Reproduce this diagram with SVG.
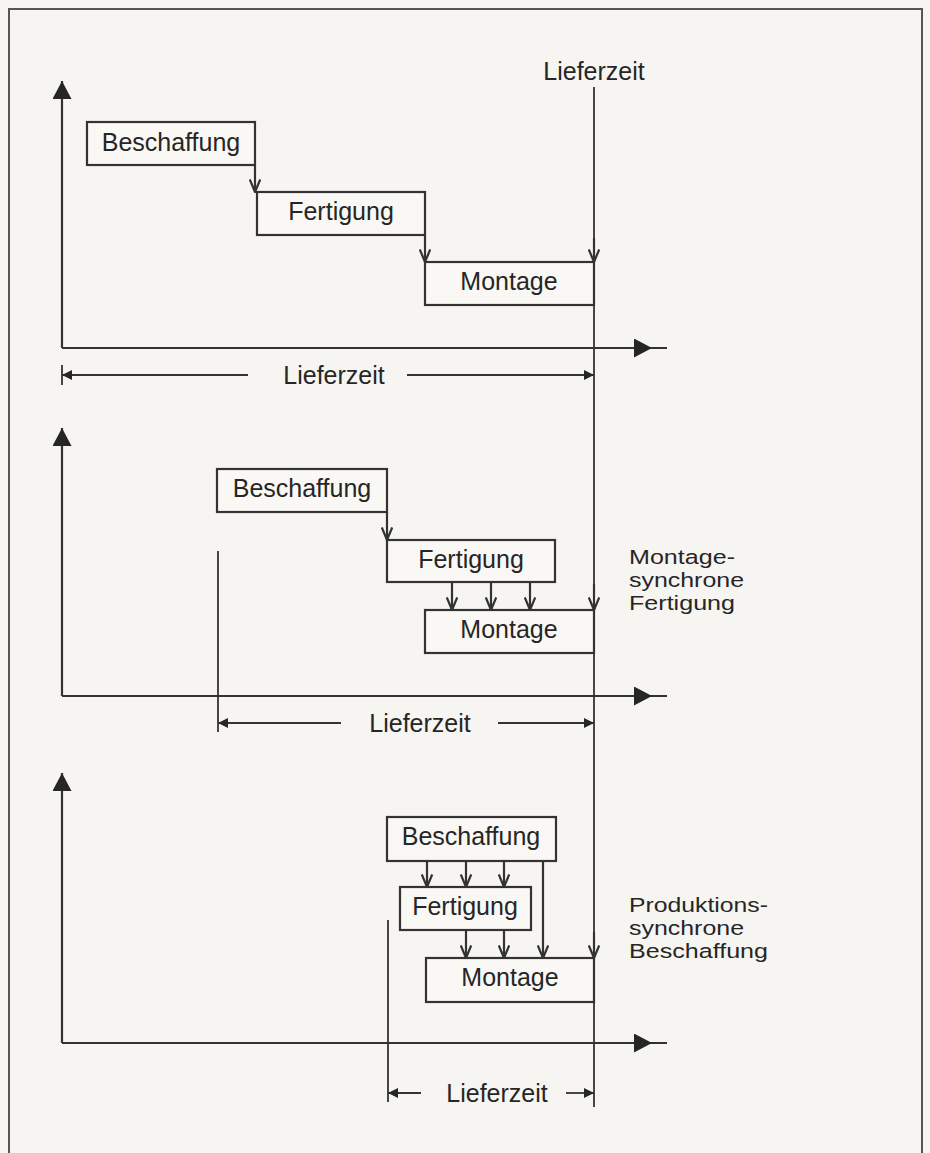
<svg xmlns="http://www.w3.org/2000/svg" width="930" height="1153" viewBox="0 0 930 1153">
  <defs>
    <style>
      .bg { fill: #f7f5f1; }
      .frame { fill: none; stroke: #555; stroke-width: 2; }
      .box { fill: #faf8f5; stroke: #333; stroke-width: 2.2; }
      .thin { fill: none; stroke: #333; stroke-width: 1.8; }
      .arr { fill: none; stroke: #333; stroke-width: 2.2; marker-end: url(#vhead); }
      .axis { fill: none; stroke: #333; stroke-width: 2.2; }
      .t { font-family: "Liberation Sans", Arial, sans-serif; font-size: 25px; fill: #262626; }
      .s { font-family: "Liberation Sans", Arial, sans-serif; font-size: 20.5px; fill: #262626; }
      .c { text-anchor: middle; }
    </style>
    <marker id="vhead" viewBox="0 0 14 12" refX="13" refY="6" markerWidth="14" markerHeight="12" markerUnits="userSpaceOnUse" orient="auto">
      <path d="M0.5,0.8 L13,6 L0.5,11.2" fill="none" stroke="#333" stroke-width="2.2"/>
    </marker>
    <marker id="tri" viewBox="0 0 18 19" refX="18" refY="9.5" markerWidth="18" markerHeight="19" markerUnits="userSpaceOnUse" orient="auto">
      <path d="M0,0 L18,9.5 L0,19 z" fill="#262626"/>
    </marker>
    <marker id="dim" viewBox="0 0 10 10" refX="10" refY="5" markerWidth="10" markerHeight="10" markerUnits="userSpaceOnUse" orient="auto-start-reverse">
      <path d="M0,0 L10,5 L0,10 z" fill="#262626"/>
    </marker>
  </defs>

  <rect class="bg" x="0" y="0" width="930" height="1153"/>
  <path class="frame" d="M9,1160 V9 H922 V1160"/>

  <!-- Panel 1 -->
  <g id="panel1-beschaffung">
    <rect class="box" x="87" y="122" width="168" height="43"/>
    <text class="t c" x="171" y="151">Beschaffung</text>
  </g>
  <g id="panel1-fertigung">
    <rect class="box" x="257" y="192" width="168" height="43"/>
    <text class="t c" x="341" y="220">Fertigung</text>
  </g>
  <g id="panel1-montage">
    <rect class="box" x="425" y="262" width="169" height="43"/>
    <text class="t c" x="509" y="290">Montage</text>
  </g>

  <!-- Panel 2 -->
  <g id="panel2-beschaffung">
    <rect class="box" x="217" y="469" width="170" height="43"/>
    <text class="t c" x="302" y="497">Beschaffung</text>
  </g>
  <g id="panel2-fertigung">
    <rect class="box" x="387" y="540" width="168" height="42"/>
    <text class="t c" x="471" y="568">Fertigung</text>
  </g>
  <g id="panel2-montage">
    <rect class="box" x="425" y="610" width="169" height="43"/>
    <text class="t c" x="509" y="638">Montage</text>
  </g>

  <!-- Panel 3 -->
  <g id="panel3-beschaffung">
    <rect class="box" x="387" y="817" width="169" height="44"/>
    <text class="t c" x="471" y="845">Beschaffung</text>
  </g>
  <g id="panel3-fertigung">
    <rect class="box" x="400" y="887" width="131" height="43"/>
    <text class="t c" x="465" y="915">Fertigung</text>
  </g>
  <g id="panel3-montage">
    <rect class="box" x="426" y="958" width="168" height="44"/>
    <text class="t c" x="510" y="986">Montage</text>
  </g>

  <!-- Labels -->
  <g id="labels">
    <text class="t c" x="594" y="80">Lieferzeit</text>
    <text class="t c" x="334" y="384">Lieferzeit</text>
    <text class="t c" x="420" y="732">Lieferzeit</text>
    <text class="t c" x="497" y="1102">Lieferzeit</text>
    <text class="s" x="629" y="564" textLength="106" lengthAdjust="spacingAndGlyphs">Montage-</text>
    <text class="s" x="629" y="587" textLength="115" lengthAdjust="spacingAndGlyphs">synchrone</text>
    <text class="s" x="629" y="610" textLength="106" lengthAdjust="spacingAndGlyphs">Fertigung</text>
    <text class="s" x="629" y="912" textLength="139" lengthAdjust="spacingAndGlyphs">Produktions-</text>
    <text class="s" x="629" y="935" textLength="115" lengthAdjust="spacingAndGlyphs">synchrone</text>
    <text class="s" x="629" y="958" textLength="139" lengthAdjust="spacingAndGlyphs">Beschaffung</text>
  </g>

  <!-- Connectors -->
  <g id="connectors">
    <path class="thin" d="M594,87 V1107"/>

    <path class="axis" d="M62,348 V81" marker-end="url(#tri)"/>
    <path class="axis" d="M62,348 H652 H667" marker-mid="url(#tri)"/>
    <path class="axis" d="M62,696 V428" marker-end="url(#tri)"/>
    <path class="axis" d="M62,696 H652 H667" marker-mid="url(#tri)"/>
    <path class="axis" d="M62,1043 V773" marker-end="url(#tri)"/>
    <path class="axis" d="M62,1043 H652 H667" marker-mid="url(#tri)"/>

    <path class="arr" d="M255,165 V192"/>
    <path class="arr" d="M425,235 V262"/>
    <path class="arr" d="M594,238 V262"/>

    <path class="arr" d="M387,512 V540"/>
    <path class="arr" d="M452,582 V610"/>
    <path class="arr" d="M491,582 V610"/>
    <path class="arr" d="M530,582 V610"/>
    <path class="arr" d="M594,584 V610"/>

    <path class="arr" d="M427,861 V887"/>
    <path class="arr" d="M466,861 V887"/>
    <path class="arr" d="M504,861 V887"/>
    <path class="arr" d="M466,930 V958"/>
    <path class="arr" d="M504,930 V958"/>
    <path class="arr" d="M543,861 V958"/>
    <path class="arr" d="M594,932 V958"/>

    <path class="thin" d="M62,365 V385"/>
    <path class="thin" d="M62,375 H248" marker-start="url(#dim)"/>
    <path class="thin" d="M407,375 H594" marker-end="url(#dim)"/>

    <path class="thin" d="M218,551 V732"/>
    <path class="thin" d="M218,723 H341" marker-start="url(#dim)"/>
    <path class="thin" d="M498,723 H594" marker-end="url(#dim)"/>

    <path class="thin" d="M388,920 V1102"/>
    <path class="thin" d="M388,1093 H421" marker-start="url(#dim)"/>
    <path class="thin" d="M566,1093 H594" marker-end="url(#dim)"/>
  </g>
</svg>
